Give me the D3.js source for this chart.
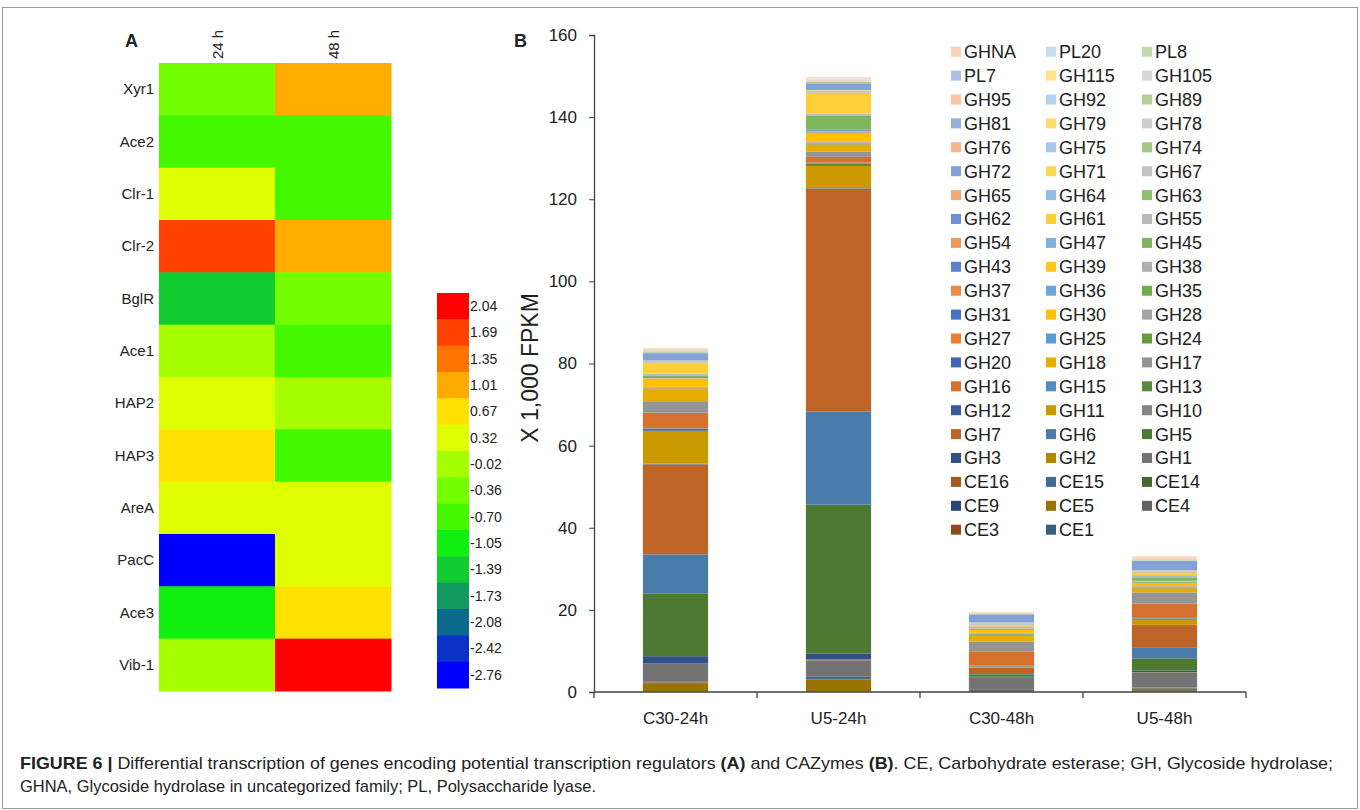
<!DOCTYPE html>
<html>
<head>
<meta charset="utf-8">
<script src="https://cdn.jsdelivr.net/npm/d3@7"></script>
<style>
  body { margin: 0; background: #fff; }
  svg text { font-family: "Liberation Sans", Arial, sans-serif; fill: #222; }
  .narrow { font-family: "Liberation Sans Narrow", "Liberation Sans", Arial, sans-serif; }
</style>
</head>
<body>
<svg id="fig" width="1360" height="810"></svg>
<script>
// ---- panel A: regulator heatmap ----
const genes = ['Xyr1', 'Ace2', 'Clr-1', 'Clr-2', 'BglR', 'Ace1', 'HAP2', 'HAP3', 'AreA', 'PacC', 'Ace3', 'Vib-1'];
const times = ['24 h', '48 h'];
const fold24 = [-0.36, -0.70, 0.32, 1.69, -1.39, -0.02, 0.32, 0.67, 0.32, -2.76, -1.05, -0.02];
const fold48 = [1.01, -0.70, -0.70, 1.01, -0.36, -0.70, -0.02, -0.70, 0.32, 0.32, 0.67, 2.04];
const scaleLabels = ['2.04', '1.69', '1.35', '1.01', '0.67', '0.32', '-0.02', '-0.36', '-0.70', '-1.05', '-1.39', '-1.73', '-2.08', '-2.42', '-2.76'];
const scaleColors = ['#ff0000', '#ff4200', '#ff7400', '#ffab00', '#ffe100', '#dfff00', '#a6ff00', '#74ff00', '#44f800', '#10f010', '#10cc30', '#119a5e', '#0b6a8c', '#0a32c8', '#0000ff'];

// ---- panel B: CAZyme stacked bars (x 1,000 FPKM) ----
const samples = ['C30-24h', 'U5-24h', 'C30-48h', 'U5-48h'];
const families = ['CE1', 'CE3', 'CE4', 'CE5', 'CE9', 'CE14', 'CE15', 'CE16',
  'GH1', 'GH2', 'GH3', 'GH5', 'GH6', 'GH7', 'GH10', 'GH11',
  'GH12', 'GH13', 'GH15', 'GH16', 'GH17', 'GH18', 'GH20', 'GH24',
  'GH25', 'GH27', 'GH28', 'GH30', 'GH31', 'GH35', 'GH36', 'GH37',
  'GH38', 'GH39', 'GH43', 'GH45', 'GH47', 'GH54', 'GH55', 'GH61',
  'GH62', 'GH63', 'GH64', 'GH65', 'GH67', 'GH71', 'GH72', 'GH74',
  'GH75', 'GH76', 'GH78', 'GH79', 'GH81', 'GH89', 'GH92', 'GH95',
  'GH105', 'GH115', 'PL7', 'PL8', 'PL20', 'GHNA'];
const c30_24h = [0.05, 0.05, 0.05, 2.0, 0.05, 0.02, 0.1, 0.3,
  4.2, 0.1, 1.8, 15.2, 9.6, 21.8, 0.3, 8.0,
  0.4, 0.1, 0.1, 3.8, 2.8, 2.9, 0.05, 0.1,
  0.05, 0.2, 0.2, 1.8, 0.05, 0.1, 0.05, 0.05,
  0.05, 0.05, 0.2, 0.4, 0.3, 0.05, 0.1, 2.6,
  0.05, 0.05, 0.05, 0.05, 0.3, 0.1, 1.8, 0.2,
  0.05, 0.05, 0.05, 0.1, 0.05, 0.05, 0.05, 0.2,
  0.05, 0.1, 0.05, 0.05, 0.05, 0.2];
const u5_24h = [0.05, 0.05, 0.05, 2.9, 0.05, 0.02, 0.7, 0.3,
  3.6, 0.3, 1.3, 36.3, 22.7, 54.2, 0.2, 5.4,
  0.2, 0.4, 0.2, 1.4, 1.3, 1.7, 0.05, 0.1,
  0.1, 0.2, 0.2, 2.3, 0.1, 0.1, 0.05, 0.05,
  0.05, 0.05, 0.3, 3.4, 0.3, 0.05, 0.1, 5.0,
  0.05, 0.05, 0.05, 0.05, 0.5, 0.1, 1.6, 0.3,
  0.05, 0.05, 0.05, 0.1, 0.05, 0.05, 0.05, 0.2,
  0.05, 0.1, 0.05, 0.05, 0.05, 0.3];
const c30_48h = [0.02, 0.05, 0.05, 0.05, 0.25, 0.02, 0.02, 0.05,
  2.9, 0.1, 0.2, 0.6, 0.3, 1.3, 0.1, 0.1,
  0.1, 0.1, 0.1, 3.5, 2.4, 1.4, 0.1, 0.2,
  0.1, 0.1, 0.2, 0.7, 0.1, 0.1, 0.1, 0.05,
  0.05, 0.05, 0.1, 0.1, 0.1, 0.05, 0.1, 0.4,
  0.05, 0.05, 0.05, 0.05, 0.2, 0.1, 2.0, 0.05,
  0.02, 0.02, 0.02, 0.05, 0.02, 0.02, 0.02, 0.1,
  0.02, 0.05, 0.02, 0.02, 0.02, 0.2];
const u5_48h = [0.05, 0.1, 0.3, 0.4, 0.1, 0.05, 0.05, 0.05,
  3.6, 0.1, 0.4, 3.0, 2.7, 5.4, 0.05, 1.2,
  0.15, 0.2, 0.15, 3.5, 2.7, 1.0, 0.05, 0.1,
  0.1, 0.15, 0.15, 0.8, 0.1, 0.1, 0.05, 0.05,
  0.05, 0.05, 0.1, 0.8, 0.3, 0.1, 0.2, 0.6,
  0.05, 0.05, 0.05, 0.05, 0.2, 0.1, 2.3, 0.1,
  0.05, 0.05, 0.05, 0.1, 0.05, 0.05, 0.05, 0.15,
  0.05, 0.1, 0.05, 0.05, 0.05, 0.2];
const yTicks = [0, 20, 40, 60, 80, 100, 120, 140, 160];

const svg = d3.select('#fig');

// frame round the figure
svg.append('rect')
  .attr('x', 2.5).attr('y', 7.5).attr('width', 1355).attr('height', 801)
  .attr('fill', 'none').attr('stroke', '#9a9a9a').attr('stroke-width', 1);

// ================= A =================
svg.append('text').attr('x', 125).attr('y', 47)
  .attr('font-size', 18).attr('font-weight', 'bold').text('A');

const hx = d3.scaleBand().domain(times).range([159, 391]);
const hy = d3.scaleBand().domain(genes).range([63, 691]);
const heatColor = d3.scaleQuantize().domain([-2.93, 2.21]).range(scaleColors.slice().reverse());

const cells = [];
genes.forEach((g, i) => {
  cells.push({ gene: g, time: times[0], v: fold24[i] });
  cells.push({ gene: g, time: times[1], v: fold48[i] });
});

svg.append('g').selectAll('rect').data(cells).join('rect')
  .attr('x', d => hx(d.time))
  .attr('y', d => hy(d.gene))
  .attr('width', hx.bandwidth() + 0.5)
  .attr('height', hy.bandwidth() + 0.5)
  .attr('fill', d => heatColor(d.v));

svg.append('g').selectAll('text').data(genes).join('text')
  .attr('class', 'narrow')
  .attr('x', 154)
  .attr('y', d => hy(d) + hy.bandwidth() / 2)
  .attr('dy', '0.35em')
  .attr('text-anchor', 'end')
  .attr('font-size', 15)
  .text(d => d);

svg.append('g').selectAll('text').data(times).join('text')
  .attr('transform', d => `translate(${hx(d) + hx.bandwidth() / 2 + 6},59) rotate(-90)`)
  .attr('font-size', 15)
  .text(d => d);

// colour key
const ky = d3.scaleBand().domain(scaleLabels).range([293, 688]);
const key = svg.append('g');
key.selectAll('rect').data(scaleLabels).join('rect')
  .attr('x', 437).attr('width', 32)
  .attr('y', d => ky(d)).attr('height', ky.bandwidth() + 0.5)
  .attr('fill', (d, i) => scaleColors[i]);
key.selectAll('text').data(scaleLabels).join('text')
  .attr('class', 'narrow')
  .attr('x', 470)
  .attr('y', d => ky(d) + ky.bandwidth() / 2)
  .attr('dy', '0.35em')
  .attr('font-size', 14)
  .text(d => d);

// ================= B =================
svg.append('text').attr('x', 514).attr('y', 47)
  .attr('font-size', 18).attr('font-weight', 'bold').text('B');

const x = d3.scaleBand().domain(samples).range([594, 1246]).paddingInner(0.6).paddingOuter(0.3);
const y = d3.scaleLinear().domain([0, 160]).range([692, 35]);

// office-style palette: six accents, darker first, lighter later
const accents = ['#5B9BD5', '#ED7D31', '#A5A5A5', '#FFC000', '#4472C4', '#70AD47'];
function famColor(i) {
  const base = accents[i % 6];
  const k = Math.floor(i / 6);
  if (k < 4) return d3.interpolateRgb('#000', base)(1 - (4 - k) * 0.1);
  return d3.interpolateRgb(base, '#fff')((k - 4) * 0.11);
}

const table = samples.map((s, si) => {
  const vals = [c30_24h, u5_24h, c30_48h, u5_48h][si];
  const row = { sample: s };
  families.forEach((f, i) => { row[f] = vals[i]; });
  return row;
});
const stacked = d3.stack().keys(families)(table);

svg.append('g').selectAll('g').data(stacked).join('g')
  .attr('fill', (d, i) => famColor(i))
  .selectAll('rect').data(d => d).join('rect')
  .attr('x', d => x(d.data.sample))
  .attr('width', x.bandwidth())
  .attr('y', d => y(d[1]))
  .attr('height', d => y(d[0]) - y(d[1]));

// value axis
const yAxis = svg.append('g')
  .attr('transform', 'translate(594,0)')
  .call(d3.axisLeft(y).tickValues(yTicks).tickSize(5).tickPadding(12));
yAxis.select('.domain').attr('stroke', '#404040').attr('stroke-width', 1.3);
yAxis.selectAll('.tick line').attr('stroke', '#404040');
yAxis.selectAll('.tick text').attr('font-size', 17).attr('fill', '#222')
  .attr('font-family', '"Liberation Sans", Arial, sans-serif');

svg.append('text')
  .attr('transform', 'translate(538,368) rotate(-90)')
  .attr('text-anchor', 'middle')
  .attr('font-size', 23)
  .text('X 1,000 FPKM');

// category axis with tick marks between categories
const step = x.step();
const x0 = 594;
const xAxis = svg.append('g');
xAxis.append('line')
  .attr('x1', x0).attr('x2', 1246).attr('y1', 692).attr('y2', 692)
  .attr('stroke', '#404040').attr('stroke-width', 1.3);
xAxis.selectAll('line.sep').data(d3.range(samples.length + 1)).join('line')
  .attr('class', 'sep')
  .attr('x1', i => x0 + i * step).attr('x2', i => x0 + i * step)
  .attr('y1', 692).attr('y2', 698)
  .attr('stroke', '#404040').attr('stroke-width', 1.3);
xAxis.selectAll('text').data(samples).join('text')
  .attr('x', d => x(d) + x.bandwidth() / 2)
  .attr('y', 724)
  .attr('text-anchor', 'middle')
  .attr('font-size', 17)
  .text(d => d);

// legend, reversed, three per row
const legendItems = families.map((f, i) => ({ f, i })).reverse();
const colX = [951, 1046, 1142];
const lg = svg.append('g').selectAll('g').data(legendItems).join('g')
  .attr('transform', (d, j) => `translate(${colX[j % 3]},${51.7 + Math.floor(j / 3) * 23.9})`);
lg.append('rect').attr('x', 0).attr('y', -5).attr('width', 10).attr('height', 10)
  .attr('fill', d => famColor(d.i));
lg.append('text').attr('x', 13).attr('dy', '0.36em')
  .attr('font-size', 18).attr('fill', '#222')
  .text(d => d.f);

// ================= caption =================
const cap1 = svg.append('text').attr('class', 'narrow')
  .attr('x', 20).attr('y', 769).attr('font-size', 17)
  .attr('textLength', 1313).attr('lengthAdjust', 'spacingAndGlyphs');
cap1.append('tspan').attr('font-weight', 'bold').text('FIGURE 6 | ');
cap1.append('tspan').text('Differential transcription of genes encoding potential transcription regulators ');
cap1.append('tspan').attr('font-weight', 'bold').text('(A)');
cap1.append('tspan').text(' and CAZymes ');
cap1.append('tspan').attr('font-weight', 'bold').text('(B)');
cap1.append('tspan').text('. CE, Carbohydrate esterase; GH, Glycoside hydrolase;');

svg.append('text').attr('class', 'narrow')
  .attr('x', 20).attr('y', 792).attr('font-size', 17)
  .attr('textLength', 576).attr('lengthAdjust', 'spacingAndGlyphs')
  .text('GHNA, Glycoside hydrolase in uncategorized family; PL, Polysaccharide lyase.');
</script>
</body>
</html>
